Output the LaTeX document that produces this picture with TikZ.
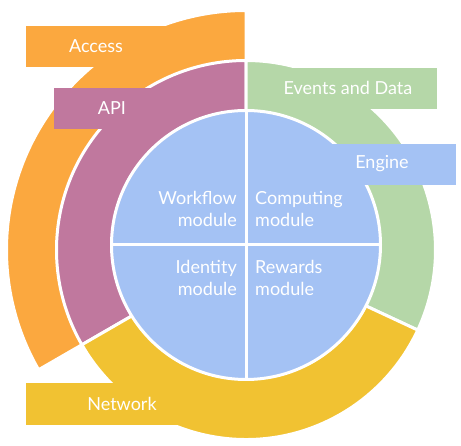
\documentclass[tikz,border=0pt]{standalone}
\usepackage{fontspec}
\setmainfont{Lato}
\usetikzlibrary{positioning}
\definecolor{accessc}{HTML}{FBA83F}
\definecolor{apic}{HTML}{C0789E}
\definecolor{eventc}{HTML}{B5D7A8}
\definecolor{netc}{HTML}{F1C232}
\definecolor{modc}{HTML}{A4C2F4}
\tikzset{ring/.style={draw=white,line width=3pt}}
\tikzset{lbl/.style={text=white,inner sep=0pt,font=\fontsize{18}{22}\selectfont}}

\begin{document}
\begin{tikzpicture}[x=1pt,y=1pt]
\useasboundingbox (0,0) rectangle (461,446);
\coordinate (rc) at (246,196);
\coordinate (c) at (246,201);
% outer rings
\filldraw[ring,fill=accessc] (rc) -- ++(90:239.5) arc (90:210:239.5) -- cycle;
\filldraw[ring,fill=apic] (rc) -- ++(90:189.5) arc (90:210:189.5) -- cycle;
\filldraw[ring,fill=eventc] (rc) -- ++(-25:189.5) arc (-25:90:189.5) -- cycle;
\filldraw[ring,fill=netc] (rc) -- ++(210:189.5) arc (210:335:189.5) -- cycle;
% label boxes
\fill[accessc] (26,379) rectangle (180,420);
\fill[apic] (54,317) rectangle (200,358);
\fill[eventc] (255,337) rectangle (437,378);
\fill[netc] (26,21) rectangle (190,63);
% modules
\filldraw[ring,fill=modc] (c) circle (134.5);
\draw[white,line width=3pt] (246,67) -- (246,335);
\draw[white,line width=3pt] (112,201) -- (380,201);
\fill[modc] (300,261) rectangle (456,302);
%
\node (access) [lbl] at (96,400) {Access};
\node (api) [lbl] at (112,338) {API};
\node (events) [lbl] at (348,358) {Events and Data};
\node (engine) [lbl] at (382,282) {Engine};
\node (network) [lbl] at (122,42) {Network};
\node (workflow) [lbl,align=right,anchor=east] at (237,237) {Workflow\\module};
\node (computing) [lbl,align=left,anchor=west] at (255,237) {Computing\\module};
\node (identity) [lbl,align=right,anchor=east] at (237,168) {Identity\\module};
\node (rewards) [lbl,align=left,anchor=west] at (255,168) {Rewards\\module};
\end{tikzpicture}
\end{document}
